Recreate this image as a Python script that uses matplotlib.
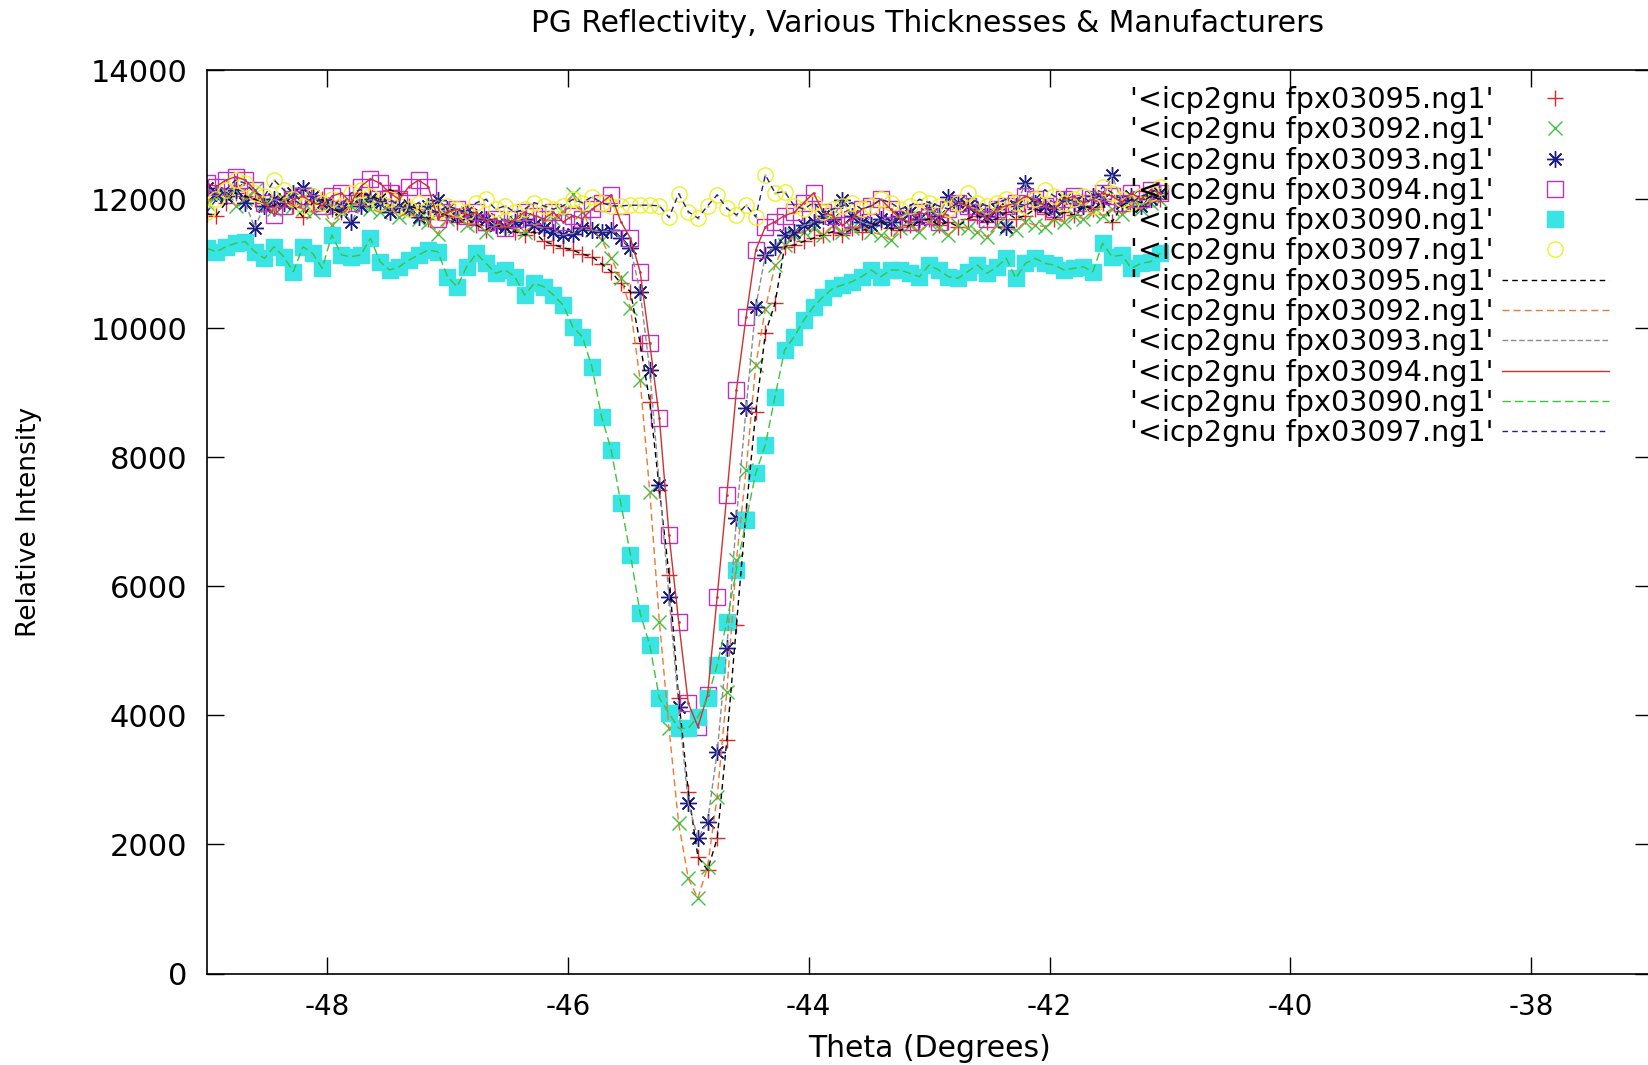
import matplotlib
matplotlib.use("Agg")
import matplotlib.pyplot as plt

plt.rcParams['font.family'] = ['DejaVu Sans']
plt.rcParams['axes.unicode_minus'] = False

# ---------------- data ----------------
theta = [
    -49.00, -48.92, -48.84, -48.76, -48.68, -48.60, -48.52, -48.44, -48.36, -48.28,
    -48.20, -48.12, -48.04, -47.96, -47.88, -47.80, -47.72, -47.64, -47.56, -47.48,
    -47.40, -47.32, -47.24, -47.16, -47.08, -47.00, -46.92, -46.84, -46.76, -46.68,
    -46.60, -46.52, -46.44, -46.36, -46.28, -46.20, -46.12, -46.04, -45.96, -45.88,
    -45.80, -45.72, -45.64, -45.56, -45.48, -45.40, -45.32, -45.24, -45.16, -45.08,
    -45.00, -44.92, -44.84, -44.76, -44.68, -44.60, -44.52, -44.44, -44.36, -44.28,
    -44.20, -44.12, -44.04, -43.96, -43.88, -43.80, -43.72, -43.64, -43.56, -43.48,
    -43.40, -43.32, -43.24, -43.16, -43.08, -43.00, -42.92, -42.84, -42.76, -42.68,
    -42.60, -42.52, -42.44, -42.36, -42.28, -42.20, -42.12, -42.04, -41.96, -41.88,
    -41.80, -41.72, -41.64, -41.56, -41.48, -41.40, -41.32, -41.24, -41.16, -41.08,
]

fpx03095 = [
    11780, 11750, 11950, 12100, 12050, 12000, 11950, 11900, 12050, 11900,
    11730, 11950, 12000, 11850, 11800, 11950, 12100, 12050, 12000, 12150,
    12100, 11900, 11850, 11700, 11800, 11750, 11650, 11700, 11600, 11530,
    11600, 11550, 11500, 11450, 11500, 11350, 11300, 11250, 11216, 11150,
    11112, 11000, 10879, 10700, 10569, 9769, 8864, 7500, 6178, 4266,
    2818, 1811, 1604, 2096, 3620, 5402, 7159, 8700, 9924, 10389,
    11267, 11293, 11350, 11400, 11450, 11500, 11450, 11550, 11500, 11600,
    11650, 11550, 11520, 11600, 11650, 11700, 11600, 11650, 11580, 11700,
    11750, 11650, 11700, 11800, 11700, 11750, 11850, 11800, 11700, 11800,
    11760, 11900, 11850, 11950, 11650, 11900, 12000, 11950, 12050, 12000,
]

fpx03092 = [
    11950, 12050, 12100, 11900, 12000, 12150, 11950, 11850, 12000, 11900,
    11850, 11800, 11900, 11600, 11800, 11900, 11950, 11850, 11800, 11900,
    11730, 11800, 11700, 11650, 11470, 11700, 11750, 11600, 11650, 11500,
    11600, 11650, 11550, 11500, 11600, 11650, 11700, 11800, 12080, 11800,
    11526, 11371, 11087, 10777, 10312, 9200, 7469, 5454, 3801, 2328,
    1476, 1166, 1656, 2741, 4369, 6410, 7805, 9433, 10300, 10983,
    11300, 11450, 11500, 11550, 11450, 11600, 11500, 11550, 11600, 11500,
    11450, 11370, 11550, 11600, 11500, 11650, 11550, 11450, 11600, 11550,
    11500, 11420, 11600, 11550, 11520, 11650, 11600, 11580, 11700, 11650,
    11750, 11700, 11800, 11750, 11850, 11780, 11900, 11850, 11950, 11990,
]

fpx03093 = [
    12170, 12100, 12050, 12150, 11950, 11560, 11900, 12000, 11950, 12100,
    12170, 12050, 11950, 11900, 11850, 11650, 11900, 12000, 11950, 11800,
    11900, 11850, 11730, 11900, 11990, 11850, 11750, 11800, 11730, 11700,
    11600, 11580, 11650, 11700, 11600, 11550, 11500, 11450, 11470, 11550,
    11520, 11500, 11526, 11400, 11242, 10569, 9355, 7573, 5841, 4136,
    2638, 2096, 2353, 3438, 5041, 7056, 8762, 10337, 11138, 11270,
    11450, 11500, 11600, 11650, 11750, 11700, 11990, 11750, 11650, 11600,
    11700, 11650, 11750, 11800, 11700, 11850, 11750, 12040, 11950, 11900,
    11850, 11750, 11850, 11580, 11900, 12250, 11950, 11900, 11850, 12000,
    11950, 11900, 12050, 12000, 12380, 11950, 12050, 11900, 12000, 12100,
]

fpx03094 = [
    12250, 12200, 12300, 12350, 12300, 12150, 11950, 11760, 11900, 12000,
    12050, 11950, 11900, 12050, 12100, 11950, 12200, 12320, 12250, 12100,
    12000, 12200, 12300, 12200, 11700, 11800, 11850, 11750, 11800, 11650,
    11700, 11550, 11700, 11800, 11750, 11700, 11800, 11650, 11750, 11700,
    11850, 11950, 12068, 11655, 11397, 10879, 9769, 8607, 6798, 5454,
    4189, 3826, 4317, 5841, 7418, 9045, 10182, 11216, 11577, 11655,
    11750, 11800, 11950, 12100, 11800, 11750, 11600, 11700, 11850, 11900,
    12000, 11850, 11700, 11650, 11800, 11750, 11650, 11850, 11950, 11900,
    11800, 11700, 11850, 11900, 11950, 12050, 12000, 11900, 11850, 12000,
    12050, 11950, 12000, 12100, 12050, 11950, 12100, 12000, 12150, 12100,
]

fpx03090 = [
    11242, 11189, 11267, 11320, 11345, 11189, 11087, 11267, 11112, 10879,
    11267, 11164, 10932, 11448, 11138, 11112, 11138, 11397, 11035, 10906,
    10957, 11060, 11138, 11216, 11189, 10802, 10647, 10957, 11164, 11009,
    10854, 10906, 10802, 10518, 10699, 10647, 10518, 10363, 10027, 9872,
    9406, 8631, 8115, 7289, 6488, 5584, 5092, 4266, 4034, 3801,
    3801, 3981, 4266, 4782, 5454, 6255, 7030, 7754, 8193, 8942,
    9665, 9872, 10131, 10337, 10492, 10622, 10673, 10725, 10802, 10906,
    10802, 10906, 10906, 10854, 10802, 10983, 10906, 10802, 10777, 10879,
    10983, 10854, 10950, 11087, 10777, 11009, 11087, 11009, 10983, 10906,
    10932, 10957, 10879, 11320, 11112, 11138, 10932, 11009, 11035, 11164,
]

fpx03097 = [
    11800, 12000, 12150, 12300, 12250, 12100, 12050, 12300, 12150, 12000,
    11900, 12050, 11950, 12000, 11900, 12100, 12150, 12050, 11950, 12000,
    11900, 11850, 11950, 11850, 11800, 11900, 11850, 11800, 11950, 12000,
    11850, 11900, 11800, 11850, 11950, 11900, 11850, 11900, 12000, 11950,
    12040, 11950, 11900, 11900, 11910, 11910, 11910, 11900, 11720, 12090,
    11810, 11710, 11900, 12070, 11860, 11760, 11910, 11730, 12380, 12100,
    12120, 11900, 11850, 11950, 11800, 11850, 11900, 11950, 11850, 11900,
    12000, 11950, 11850, 11900, 12000, 11950, 11900, 11850, 11950, 12100,
    11950, 11900, 11950, 12000, 11950, 11900, 12000, 12150, 12050, 11950,
    12000, 12050, 11900, 12200, 12100, 12000, 11950, 12050, 12100, 12200,
]

labels = ["'<icp2gnu fpx03095.ng1'", "'<icp2gnu fpx03092.ng1'",
          "'<icp2gnu fpx03093.ng1'", "'<icp2gnu fpx03094.ng1'",
          "'<icp2gnu fpx03090.ng1'", "'<icp2gnu fpx03097.ng1'"]
series = [fpx03095, fpx03092, fpx03093, fpx03094, fpx03090, fpx03097]

x_ticks = [-48, -46, -44, -42, -40, -38]
y_ticks = [0, 2000, 4000, 6000, 8000, 10000, 12000, 14000]

# ---------------- styles ----------------
pt_styles = [
    dict(marker='+', color='#e02828', mfc='none', mec='#e02828', ms=11, mew=1.0),
    dict(marker='x', color='#3cc43c', mfc='none', mec='#3cc43c', ms=10, mew=1.0),
    dict(marker=(8, 2, 0), color='#1c1c8c', mfc='none', mec='#1c1c8c', ms=12, mew=1.0),
    dict(marker='s', color='#c030c0', mfc='none', mec='#c030c0', ms=11, mew=1.0),
    dict(marker='s', color='#38e4e4', mfc='#38e4e4', mec='#38e4e4', ms=12, mew=1.0),
    dict(marker='o', color='#f0f028', mfc='none', mec='#f0f028', ms=11, mew=1.0),
]
ln_styles = [
    dict(color='#000000', ls=(0, (4, 3))),
    dict(color='#f07830', ls=(0, (5, 3))),
    dict(color='#8c8c8c', ls=(0, (4, 2))),
    dict(color='#d03030', ls='-'),
    dict(color='#3cc43c', ls=(0, (6, 3))),
    dict(color='#2020a0', ls=(0, (4, 3))),
]

fig = plt.figure(figsize=(16.49, 10.65), dpi=100)
ax = fig.add_axes([0.1253, 0.0859, 0.8763, 0.848])

handles = []
for vals, st, lab in zip(series, pt_styles, labels):
    h, = ax.plot(theta, vals, ls='none', label=lab, **st)
    handles.append(h)
# centre dots of the boxed / circled points
ax.plot(theta, fpx03094, ls='none', marker='.', ms=2, color='#c030c0')
ax.plot(theta, fpx03097, ls='none', marker='.', ms=2, color='#d8d820')
for vals, st, lab in zip(series, ln_styles, labels):
    h, = ax.plot(theta, vals, lw=1.0, label=lab, **st)
    handles.append(h)

ax.set_xlim(-49, -37)
ax.set_ylim(0, 14000)
ax.set_xticks(x_ticks)
ax.set_xticklabels([str(t) for t in x_ticks])
ax.set_yticks(y_ticks)
ax.set_yticklabels([str(t) for t in y_ticks])
ax.tick_params(direction='in', length=12, width=1.0, top=True, right=True, pad=14)
ax.tick_params(axis='y', labelsize=22)
ax.tick_params(axis='x', labelsize=20, pad=14)
for sp in ax.spines.values():
    sp.set_linewidth(1.2)

ax.set_xlabel('Theta (Degrees)', fontsize=21.5)
ax.xaxis.label.set_va('center')
ax.xaxis.set_label_coords(0.5, -0.0825)
ax.set_ylabel('Relative Intensity', fontsize=19)
ax.yaxis.label.set_va('center')
ax.yaxis.set_label_coords(-0.1226, 0.5)

fig.text(928 / 1649, 1 - 23 / 1065, 'PG Reflectivity, Various Thicknesses & Manufacturers',
         ha='center', va='center', fontsize=21.4)

ax.legend(handles=handles, labels=[h.get_label() for h in handles],
          loc='upper right', bbox_to_anchor=(1609 / 1649, 1 - 86 / 1065),
          bbox_transform=fig.transFigure, frameon=False, markerfirst=False,
          fontsize=20.6, borderpad=0, borderaxespad=0, handlelength=3.75,
          handletextpad=0.3, labelspacing=0.08, numpoints=1)

fig.savefig('out.png', dpi=100)
